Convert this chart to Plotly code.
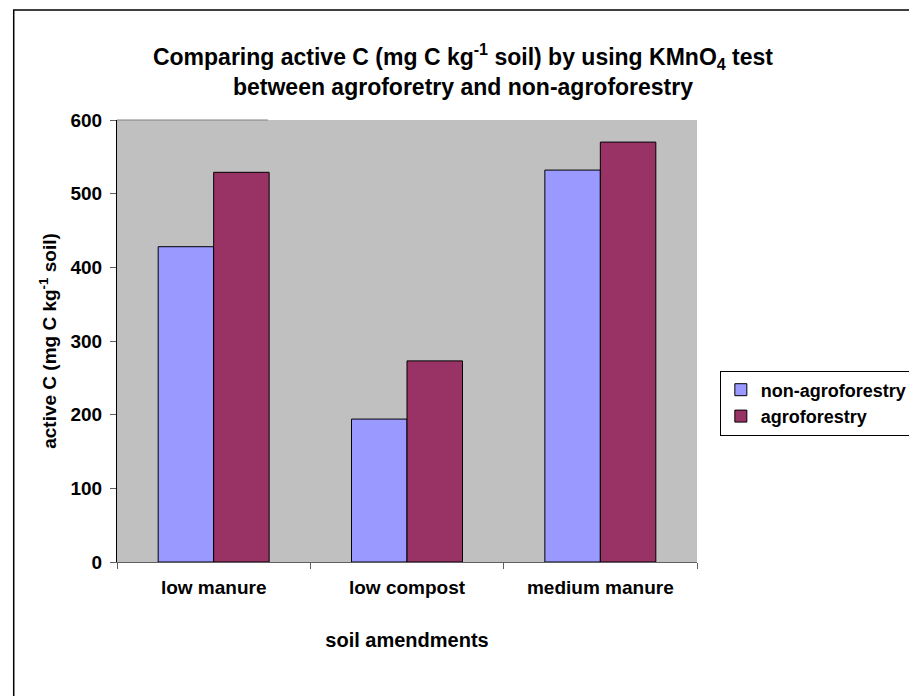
import plotly.graph_objects as go

categories = ["low manure", "low compost", "medium manure"]
non_agroforestry = [428, 194, 532]
agroforestry = [529, 273, 570]
y_ticks = [0, 100, 200, 300, 400, 500, 600]

W, H = 917, 696
L, R, T, B = 109, 224, 112, 142
pw, ph = W - L - R, H - T - B


def px_x(x):
    return (x - L) / pw


def px_y(y):
    return (H - B - y) / ph


FONT = "Liberation Sans, Arial, sans-serif"

fig = go.Figure()
fig.add_trace(go.Bar(
    x=categories, y=non_agroforestry, name="non-agroforestry",
    marker=dict(color="#9999FF", line=dict(color="#000000", width=1)),
))
fig.add_trace(go.Bar(
    x=categories, y=agroforestry, name="agroforestry",
    marker=dict(color="#993366", line=dict(color="#000000", width=1)),
))

fig.update_layout(
    width=W, height=H,
    margin=dict(l=L, r=R, t=T, b=B),
    paper_bgcolor="white",
    plot_bgcolor="#C0C0C0",
    font=dict(family=FONT, color="black"),
    barmode="group", bargap=0.426, bargroupgap=0,
    title=dict(
        text="<b>Comparing active C (mg C kg<sup>-1</sup> soil) by using KMnO<sub>4</sub> test"
             "<br>between agroforetry and non-agroforestry</b>",
        x=455 / W, xref="container", xanchor="center",
        y=1 - 57 / H, yref="container", yanchor="middle",
        font=dict(size=23, family=FONT),
    ),
    legend=dict(
        x=px_x(716), y=px_y(395), xanchor="left", yanchor="middle",
        bgcolor="white", bordercolor="black", borderwidth=1,
        font=dict(size=18, family=FONT, weight="bold"),
        tracegroupgap=0, itemwidth=30,
    ),
    showlegend=True,
)

fig.update_xaxes(
    type="category", tickson="boundaries", ticks="outside", ticklen=6,
    tickcolor="#606060", showline=True, linecolor="#606060", linewidth=1,
    showgrid=False, zeroline=False,
    tickfont=dict(size=19, family=FONT, weight="bold"),
    ticklabelstandoff=8,
    title=dict(text="<b>soil amendments</b>", font=dict(size=20, family=FONT), standoff=36),
)
fig.update_yaxes(
    range=[0, 600], tickvals=y_ticks, ticks="outside", ticklen=6,
    tickcolor="#606060", showline=True, linecolor="black", linewidth=1,
    showgrid=False, zeroline=False,
    tickfont=dict(size=19, family=FONT, weight="bold"),
    ticklabelstandoff=4,
    title=dict(text="<b>active C (mg C kg<sup>-1</sup> soil)</b>", font=dict(size=19, family=FONT), standoff=8),
)

# outer chart border and the short line along the top of the plot area
fig.add_shape(type="rect", xref="paper", yref="paper",
              x0=px_x(5), x1=px_x(914), y0=px_y(694), y1=px_y(2),
              line=dict(color="black", width=1.5))
fig.add_shape(type="line", xref="paper", yref="paper",
              x0=0, x1=px_x(261), y0=1, y1=1,
              line=dict(color="#808080", width=1))

fig.write_html("out.html")
